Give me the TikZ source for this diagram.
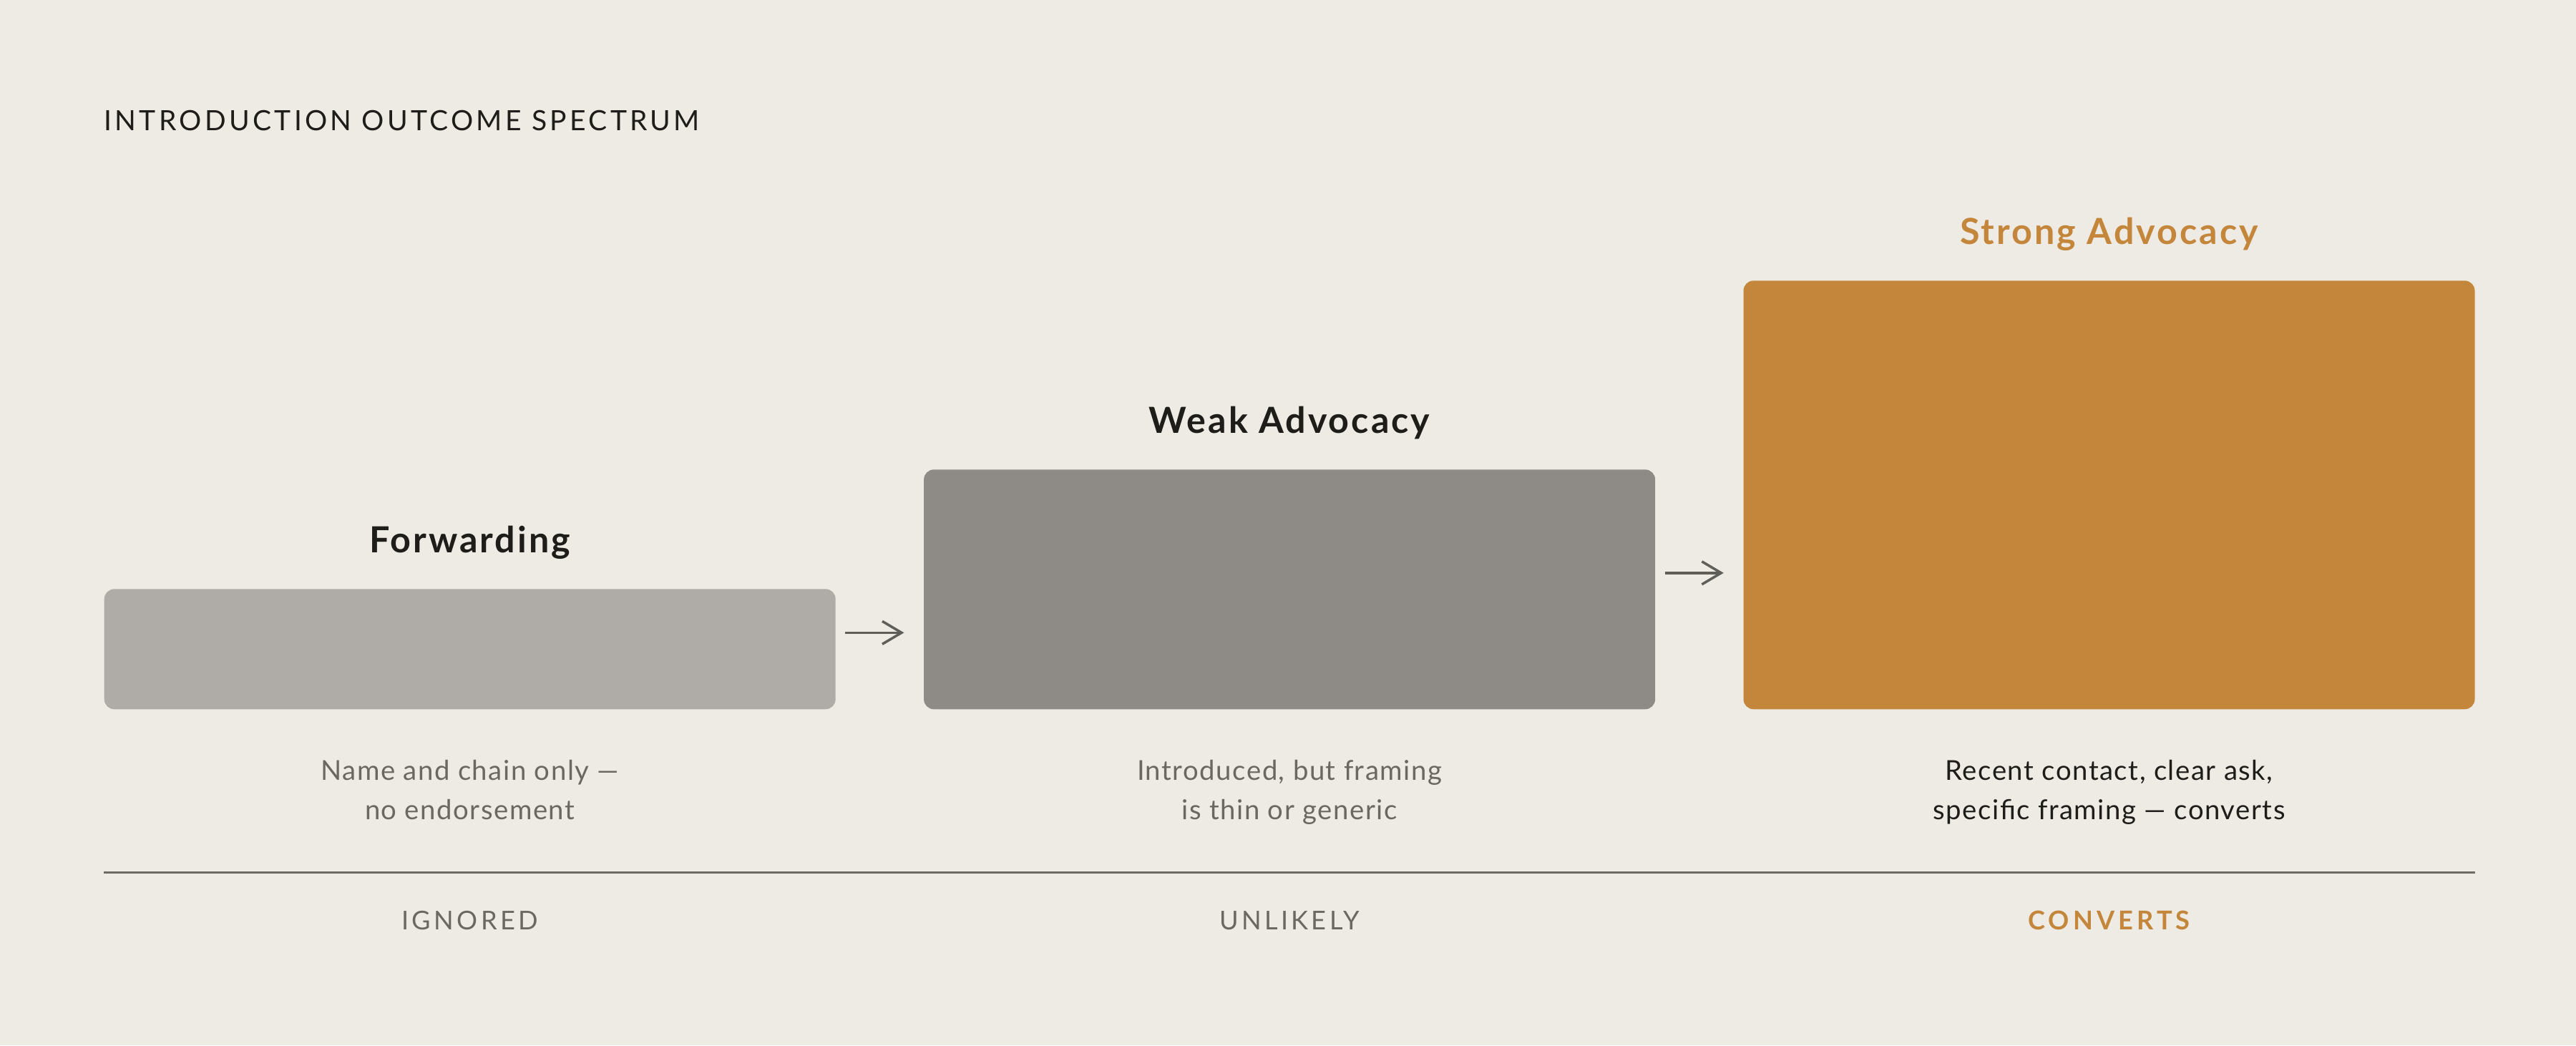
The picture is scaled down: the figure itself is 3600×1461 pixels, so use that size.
\documentclass[tikz,border=0pt]{standalone}
\usepackage{fontspec}
\setmainfont{Lato}
\newfontfamily\spaced[LetterSpace=11]{Lato}
\newfontfamily\tagfont[LetterSpace=12]{Lato}
\newfontfamily\spacedbold[LetterSpace=14]{Lato Bold}
\newfontfamily\loose[LetterSpace=6]{Lato}
\newfontfamily\textloose[LetterSpace=4]{Lato}
\usetikzlibrary{arrows.meta,positioning}
\definecolor{paper}{HTML}{EEEBE5}
\definecolor{ink}{HTML}{1E1D1A}
\definecolor{muted}{HTML}{6B6862}
\definecolor{fwdgrey}{HTML}{AFACA7}
\definecolor{weakgrey}{HTML}{8E8B86}
\definecolor{amber}{HTML}{C4863A}
\definecolor{rulegrey}{HTML}{6B6A65}
\definecolor{arrowgrey}{HTML}{5F5E59}

\begin{document}
\begin{tikzpicture}[x=0.1mm,y=0.1mm,>={Straight Barb[length=2.7mm,width=3.2mm]},
      box/.style={rounded corners=1.4mm, minimum width=102.2mm, inner sep=0pt, anchor=south west},
      head/.style={font=\loose\fontsize{14.3}{16}\selectfont\bfseries, text=ink, inner sep=0pt},
      desc/.style={font=\textloose\fontsize{10.9}{15.65}\selectfont, align=center, text=muted, inner sep=0pt},
      tag/.style={font=\tagfont\fontsize{10.3}{12}\selectfont, text=muted, inner sep=0pt},
      flow/.style={->, draw=arrowgrey, line width=0.35mm, shorten <=1.3mm, shorten >=2.7mm},
      rule/.style={draw=rulegrey, line width=0.3mm}]
     \useasboundingbox (0,0) rectangle (3600,1461);
     \fill[paper] (0,0) rectangle (3600,1461);
     \node[anchor=base west, inner sep=0pt, text=ink, font=\spaced\fontsize{11.1}{13}\selectfont] (title) at (145,1278) {INTRODUCTION OUTCOME SPECTRUM};
     % the three outcomes, bottom aligned
     \node[box, fill=fwdgrey, minimum height=16.8mm] (fwd) at (145,469) {};
     \node[box, fill=weakgrey, minimum height=33.5mm, right=12.2mm of fwd.south east, anchor=south west] (weak) {};
     \node[box, fill=amber, minimum height=59.9mm, right=12.2mm of weak.south east, anchor=south west] (strong) {};
     \node[head, above=5mm of fwd.north, anchor=base] (fwdhead) {Forwarding};
     \node[head, above=5mm of weak.north, anchor=base] (weakhead) {Weak Advocacy};
     \node[head, above=5mm of strong.north, anchor=base, text=amber] (stronghead) {Strong Advocacy};
     \draw[flow] ([yshift=2.3mm]fwd.east) -- ([yshift=2.3mm]fwd.east -| weak.west);
     \draw[flow] ([yshift=2.3mm]weak.east) -- ([yshift=2.3mm]weak.east -| strong.west);
     \node[desc, below=15.3mm of fwd.south, anchor=base] (fwddesc) {Name and chain only —\\no endorsement};
     \node[desc, below=15.3mm of weak.south, anchor=base] (weakdesc) {Introduced, but framing\\is thin or generic};
     \node[desc, below=15.3mm of strong.south, anchor=base, text=ink] (strongdesc) {Recent contact, clear ask,\\specific framing — converts};
     \draw[rule] ([yshift=-22.7mm]fwd.south west) -- ([yshift=-22.7mm]strong.south east);
     \node[tag, below=30.7mm of fwd.south, anchor=base] (fwdtag) {IGNORED};
     \node[tag, below=30.7mm of weak.south, anchor=base] (weaktag) {UNLIKELY};
     \node[tag, below=30.7mm of strong.south, anchor=base, text=amber, font=\spacedbold\fontsize{10.3}{12}\selectfont] (strongtag) {CONVERTS};
    \end{tikzpicture}
\end{document}
